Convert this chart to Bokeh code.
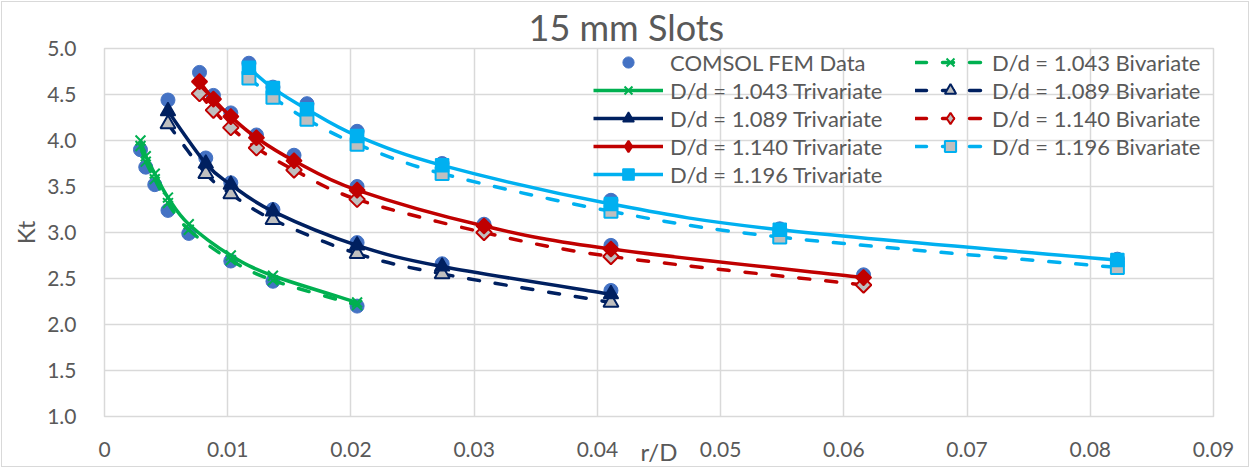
import numpy as np
from bokeh.plotting import figure
from bokeh.models import (Range1d, FixedTicker, PrintfTickFormatter, Legend,
                          LegendItem, Title)
from bokeh.embed import file_html
from bokeh.resources import INLINE

# ---------------- data ----------------
TITLE = "15 mm Slots"
X_LABEL = "r/D"
Y_LABEL = "Kt"
x_ticks = [0, 0.01, 0.02, 0.03, 0.04, 0.05, 0.06, 0.07, 0.08, 0.09]
y_ticks = [1.0, 1.5, 2.0, 2.5, 3.0, 3.5, 4.0, 4.5, 5.0]

# D/d = 1.043
rd_1043 = [0.00292, 0.00335, 0.00408, 0.00515, 0.00684, 0.01025, 0.01367, 0.0205]
fem_1043 = [3.90, 3.71, 3.52, 3.24, 2.99, 2.69, 2.47, 2.20]
tri_1043 = [4.00, 3.83, 3.64, 3.38, 3.09, 2.75, 2.53, 2.24]
bi_1043 = [3.94, 3.77, 3.58, 3.32, 3.03, 2.70, 2.48, 2.21]

# D/d = 1.089
rd_1089 = [0.00515, 0.00822, 0.01025, 0.01367, 0.0205, 0.0274, 0.0411]
fem_1089 = [4.44, 3.81, 3.54, 3.25, 2.89, 2.66, 2.37]
tri_1089 = [4.32, 3.75, 3.52, 3.23, 2.86, 2.63, 2.33]
bi_1089 = [4.18, 3.64, 3.42, 3.14, 2.77, 2.55, 2.24]

# D/d = 1.140
rd_1140 = [0.00771, 0.00884, 0.01025, 0.01233, 0.01538, 0.0205, 0.0308, 0.0411, 0.0616]
fem_1140 = [4.74, 4.49, 4.30, 4.06, 3.84, 3.50, 3.09, 2.86, 2.54]
tri_1140 = [4.64, 4.45, 4.26, 4.03, 3.78, 3.46, 3.07, 2.82, 2.51]
bi_1140 = [4.51, 4.33, 4.14, 3.92, 3.68, 3.36, 3.00, 2.74, 2.43]

# D/d = 1.196
rd_1196 = [0.01172, 0.01367, 0.01643, 0.0205, 0.0274, 0.0411, 0.0548, 0.0822]
fem_1196 = [4.84, 4.58, 4.40, 4.10, 3.75, 3.35, 3.04, 2.71]
tri_1196 = [4.79, 4.57, 4.34, 4.05, 3.73, 3.31, 3.03, 2.70]
bi_1196 = [4.68, 4.47, 4.23, 3.96, 3.64, 3.23, 2.95, 2.62]

ratios = ["1.043", "1.089", "1.140", "1.196"]
rds = [rd_1043, rd_1089, rd_1140, rd_1196]
fems = [fem_1043, fem_1089, fem_1140, fem_1196]
tris = [tri_1043, tri_1089, tri_1140, tri_1196]
bis = [bi_1043, bi_1089, bi_1140, bi_1196]

# ---------------- styles ----------------
FONT = "Lato"
TXT = "#595959"
GRID = "#D9D9D9"
FEM_COLOR = "#4472C4"
colors = ["#00B050", "#002060", "#C00000", "#00B0F0"]
markers = ["x", "triangle", "square", "square"]
legend_markers = ["x", "triangle", "diamond", "square"]
angles = [0, 0, np.pi / 4, 0]
sizes = [14, 15, 11, 13]
BI_FILL = "#BFBFBF"
LW = 3.5
DASH = "11 16"


def smooth(xs, ys):
    """Excel-like smoothed line: cubic Bezier segments (Catmull-Rom control points)."""
    x = np.asarray(xs, float)
    y = np.asarray(ys, float)
    n = len(x)
    xp = np.concatenate([[x[0]], x, [x[-1]]])
    yp = np.concatenate([[y[0]], y, [y[-1]]])
    return dict(
        x0=x[:-1], y0=y[:-1], x1=x[1:], y1=y[1:],
        cx0=x[:-1] + (xp[2:n + 1] - xp[0:n - 1]) / 6.0,
        cy0=y[:-1] + (yp[2:n + 1] - yp[0:n - 1]) / 6.0,
        cx1=x[1:] - (xp[3:n + 2] - xp[1:n]) / 6.0,
        cy1=y[1:] - (yp[3:n + 2] - yp[1:n]) / 6.0,
    )


p = figure(width=1250, height=468, x_range=Range1d(0, 0.09), y_range=Range1d(1, 5),
           output_backend="svg", toolbar_location=None, title=None,
           min_border_left=104, min_border_right=37, min_border_top=48,
           min_border_bottom=52)
p.background_fill_color = "white"
p.border_fill_color = "white"
p.outline_line_color = GRID
p.outline_line_width = 1.5
p.stylesheets = [
    ":host { position: relative; }",
    ":host::after { content: ''; position: absolute; left: 1px; top: 1px; right: 1px; "
    "bottom: 1px; border: 1.5px solid #D9D9D9; pointer-events: none; z-index: 100; }",
]

p.add_layout(Title(text=TITLE, align="left", offset=424, standoff=0,
                   text_font=FONT, text_font_size="36px", text_font_style="normal",
                   text_color=TXT, vertical_align="bottom"), "above")

p.xaxis.ticker = FixedTicker(ticks=x_ticks)
p.yaxis.ticker = FixedTicker(ticks=y_ticks)
p.yaxis.formatter = PrintfTickFormatter(format="%.1f")
for ax in (p.xaxis[0], p.yaxis[0]):
    ax.axis_line_color = None
    ax.major_tick_line_color = None
    ax.minor_tick_line_color = None
    ax.major_label_text_font = FONT
    ax.major_label_text_font_size = "21px"
    ax.major_label_text_color = TXT
    ax.axis_label_text_font = FONT
    ax.axis_label_text_font_size = "24px"
    ax.axis_label_text_font_style = "normal"
    ax.axis_label_text_color = TXT
p.xaxis.major_label_standoff = 19
p.yaxis.major_label_standoff = 22
p.yaxis.axis_label = Y_LABEL
p.yaxis.axis_label_standoff = 4
p.xaxis.axis_label = X_LABEL
p.xaxis.axis_label_standoff = -23
p.grid.grid_line_color = GRID
p.grid.grid_line_width = 1.5
p.xgrid.ticker = FixedTicker(ticks=x_ticks)
p.ygrid.ticker = FixedTicker(ticks=y_ticks)

# COMSOL data (drawn first, underneath)
fem_renderers = []
for i in range(4):
    r = p.scatter(rds[i], fems[i], marker="circle", size=14,
                  fill_color=FEM_COLOR, line_color=FEM_COLOR)
    fem_renderers.append(r)


def legend_marker(i, xs, ys, fill):
    """Size-0 copy of a series used only for its legend swatch (diamond shape)."""
    if legend_markers[i] == markers[i] and angles[i] == 0:
        return None
    return p.scatter(xs, ys, marker=legend_markers[i], size=0, fill_color=fill,
                     line_color=colors[i], line_width=2)


# Bivariate (dashed)
bi_items = []
for i in range(4):
    c = colors[i]
    ln = p.bezier(line_color=c, line_width=LW, line_dash=DASH, line_cap="round",
                  source=smooth(rds[i], bis[i]),
                  x0="x0", y0="y0", x1="x1", y1="y1",
                  cx0="cx0", cy0="cy0", cx1="cx1", cy1="cy1")
    if markers[i] == "x":
        sc = p.scatter(rds[i], bis[i], marker="x", size=sizes[i], line_color=c,
                       line_width=2)
    else:
        sc = p.scatter(rds[i], bis[i], marker=markers[i], size=sizes[i],
                       angle=angles[i], fill_color=BI_FILL, line_color=c, line_width=2)
    lm = legend_marker(i, rds[i], bis[i], BI_FILL)
    bi_items.append(LegendItem(label=f"D/d = {ratios[i]} Bivariate",
                               renderers=[ln, lm if lm is not None else sc]))

# Trivariate (solid)
tri_items = []
for i in range(4):
    c = colors[i]
    ln = p.bezier(line_color=c, line_width=LW, source=smooth(rds[i], tris[i]),
                  x0="x0", y0="y0", x1="x1", y1="y1",
                  cx0="cx0", cy0="cy0", cx1="cx1", cy1="cy1")
    if markers[i] == "x":
        sc = p.scatter(rds[i], tris[i], marker="x", size=sizes[i], line_color=c,
                       line_width=2)
    else:
        sc = p.scatter(rds[i], tris[i], marker=markers[i], size=sizes[i],
                       angle=angles[i], fill_color=c, line_color=c, line_width=1.5)
    lm = legend_marker(i, rds[i], tris[i], c)
    tri_items.append(LegendItem(label=f"D/d = {ratios[i]} Trivariate",
                                renderers=[ln, lm if lm is not None else sc]))

items1 = [LegendItem(label="COMSOL FEM Data", renderers=[fem_renderers[0]])] + tri_items
leg1 = Legend(items=items1, location=(489, 228))
leg2 = Legend(items=bi_items, location=(811, 256))
for lg in (leg1, leg2):
    lg.glyph_width = 70
    lg.glyph_height = 28
    lg.label_height = 28
    lg.spacing = 0
    lg.padding = 0
    lg.margin = 0
    lg.label_standoff = 7
    lg.border_line_alpha = 0
    lg.background_fill_alpha = 0
    lg.label_text_font = FONT
    lg.label_text_font_size = "22px"
    lg.label_text_color = TXT
    p.add_layout(lg)

open("out.html", "w").write(file_html(p, INLINE))
